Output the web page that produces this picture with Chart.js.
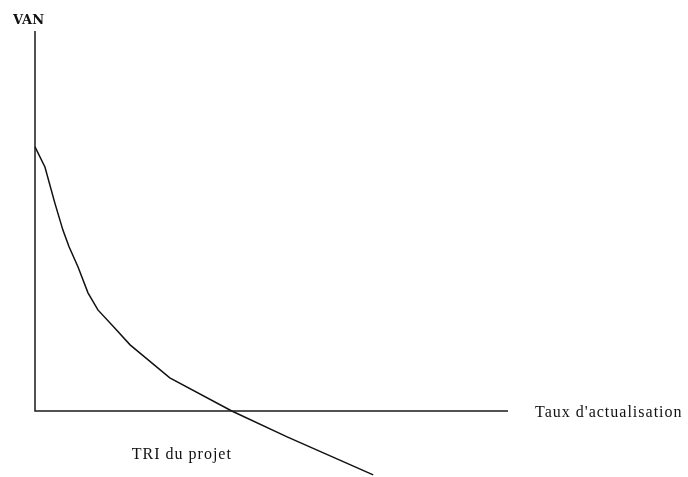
<!DOCTYPE html>
<html>
<head>
<meta charset="utf-8">
<script src="https://cdn.jsdelivr.net/npm/chart.js@4.4.1/dist/chart.umd.min.js"></script>
<style>
  html, body { margin: 0; padding: 0; background: #fff; }
  #wrap { width: 688px; height: 477px; }
</style>
</head>
<body>
<div id="wrap"><canvas id="van"></canvas></div>
<script>
// taux d'actualisation (unités arbitraires) et VAN correspondante
var taux = [0, 2.1, 4.2, 5.9, 7.2, 9.1, 11.2, 13.3, 16.9, 20.1, 28.5, 41.6, 53.3, 71.5];
var van  = [69.5, 64.2, 54.7, 47.6, 43.2, 37.9, 31.1, 26.6, 21.8, 17.4, 8.7, 0, -6.8, -16.8];
var axeX = [0, 100];
var axeY = [0, 100];
var triTaux = 41.6;

var points = taux.map(function (t, i) {
    return { x: t, y: van[i] };
});

// dessine les axes et les libellés à partir des échelles
var axes = {
    id: 'axes',
    afterDraw: function (chart) {
        var ctx = chart.ctx;
        var sx = chart.scales.x, sy = chart.scales.y;
        var x0 = sx.getPixelForValue(axeX[0]);
        var x1 = sx.getPixelForValue(axeX[1]);
        var y0 = sy.getPixelForValue(axeY[0]);
        var y1 = sy.getPixelForValue(axeY[1]);
        ctx.save();
        ctx.strokeStyle = '#1a1a1a';
        ctx.lineWidth = 1.5;
        ctx.beginPath();
        ctx.moveTo(x0, y1);
        ctx.lineTo(x0, y0);
        ctx.lineTo(x1, y0);
        ctx.stroke();

        ctx.fillStyle = '#111';
        ctx.textBaseline = 'alphabetic';
        ctx.font = 'bold 13px "DejaVu Serif"';
        ctx.fillText('VAN', x0 - 22, y1 - 7);
        ctx.font = '16px "Liberation Serif"';
        ctx.letterSpacing = '1px';
        ctx.fillText("Taux d'actualisation", x1 + 27, y0 + 6);
        var tx = sx.getPixelForValue(triTaux);
        ctx.fillText('TRI du projet', tx - 100, y0 + 48);
        ctx.restore();
    }
};

new Chart(document.getElementById('van'), {
    type: 'scatter',
    data: {
        datasets: [{
            data: points,
            showLine: true,
            borderColor: '#111',
            borderWidth: 1.5,
            pointRadius: 0,
            tension: 0,
        }]
    },
    options: {
        responsive: true,
        maintainAspectRatio: false,
        animation: false,
        layout: { padding: 0 },
        plugins: {
            legend: { display: false },
            tooltip: { enabled: false },
        },
        scales: {
            x: { type: 'linear', display: false, min: -7.4, max: 138.05 },
            y: { type: 'linear', display: false, min: -17.37, max: 108.16 },
        }
    },
    plugins: [axes]
});
</script>
</body>
</html>
